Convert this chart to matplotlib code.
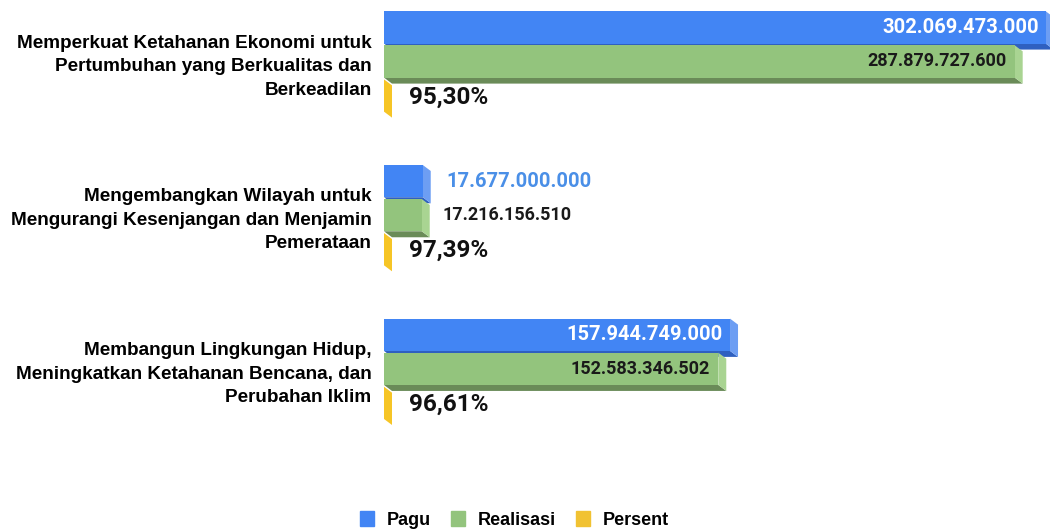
import matplotlib
matplotlib.use('Agg')
import matplotlib.pyplot as plt
from matplotlib.patches import Polygon, Patch

# data
categories = ['Memperkuat Ketahanan Ekonomi untuk\nPertumbuhan yang Berkualitas dan\nBerkeadilan',
              'Mengembangkan Wilayah untuk\nMengurangi Kesenjangan dan Menjamin\nPemerataan',
              'Membangun Lingkungan Hidup,\nMeningkatkan Ketahanan Bencana, dan\nPerubahan Iklim']
pagu = [302069473000, 17677000000, 157944749000]
realisasi = [287879727600, 17216156510, 152583346502]
persent = [95.30, 97.39, 96.61]
pagu_labels = ['302.069.473.000', '17.677.000.000', '157.944.749.000']
real_labels = ['287.879.727.600', '17.216.156.510', '152.583.346.502']
pers_labels = ['95,30%', '97,39%', '96,61%']
series_names = ['Pagu', 'Realisasi', 'Persent']

# colours: front, side, bottom
BLUE = ('#4285f4', '#6d9ef3', '#2f60c0')
GREEN = ('#93c47d', '#a9d492', '#6a8b58')
YELLOW = ('#f1c232', '#f6c526', '#c99a10')

W, H = 1050, 532
fig = plt.figure(figsize=(W/100, H/100), dpi=100)
ax_left, ax_right = 384, 1050
ax_top, ax_bot = 0, 461
ax = fig.add_axes([ax_left/W, 1-ax_bot/H, (ax_right-ax_left)/W, (ax_bot-ax_top)/H])

XMAX = 304e9
ax.set_xlim(0, XMAX)
ax.set_ylim(2.6, -0.4)

# depth of the 3D effect in px -> data units
DX_PX, DY_PX = 8, 6
dx = DX_PX * XMAX / (ax_right-ax_left)
dy = DY_PX * 3.0 / (ax_bot-ax_top)

OFF = 0.2215
BH = 0.21


def bar3d(y, w, cols):
    front, side, bottom = cols
    top, bot = y - BH/2, y + BH/2
    # bottom face
    ax.add_patch(Polygon([(0, bot), (w, bot), (w+dx, bot+dy), (dx, bot+dy)],
                         closed=True, fc=bottom, ec='none', zorder=2))
    # right side face
    ax.add_patch(Polygon([(w, top), (w+dx, top+dy), (w+dx, bot+dy), (w, bot)],
                         closed=True, fc=side, ec='none', zorder=2))
    ax.barh(y, w, height=BH, color=front, zorder=3)


for i in range(len(categories)):
    bar3d(i-OFF, pagu[i], BLUE)
    bar3d(i, realisasi[i], GREEN)
    bar3d(i+OFF, persent[i], YELLOW)

# value labels
for i in range(len(categories)):
    if pagu[i] > 0.3*XMAX:
        ax.annotate(pagu_labels[i], (pagu[i], i-OFF), xytext=(-5, 0), textcoords='offset points',
                    ha='right', va='center', color='white', fontsize=14.5, fontweight='bold',
                    family='Roboto', zorder=5)
        ax.annotate(real_labels[i], (realisasi[i], i), xytext=(-6, 0), textcoords='offset points',
                    ha='right', va='center', color='#1a1a1a', fontsize=13, fontweight='bold',
                    family='Roboto', zorder=5)
    else:
        ax.annotate(pagu_labels[i], (pagu[i], i-OFF), xytext=(17, 0), textcoords='offset points',
                    ha='left', va='center', color='#4a8fe7', fontsize=14.5, fontweight='bold',
                    family='Roboto', zorder=5)
        ax.annotate(real_labels[i], (realisasi[i], i), xytext=(15, 0), textcoords='offset points',
                    ha='left', va='center', color='#1a1a1a', fontsize=13, fontweight='bold',
                    family='Roboto', zorder=5)
    ax.annotate(pers_labels[i], (0, i+OFF), xytext=(18, -1), textcoords='offset points',
                ha='left', va='center', color='#111111', fontsize=17.5, fontweight='bold',
                family='Roboto', zorder=5)

ax.set_yticks(range(len(categories)))
ax.set_yticklabels(categories, fontsize=13.6, fontweight='bold', family='Liberation Sans',
                   ha='right', multialignment='right', linespacing=1.5)
ax.tick_params(axis='y', length=0, pad=9)
ax.set_xticks([])
for s in ax.spines.values():
    s.set_visible(False)
ax.set_facecolor('none')

handles = [Patch(color=BLUE[0]), Patch(color=GREEN[0]), Patch(color=YELLOW[0])]
fig.legend(handles, series_names, loc='center', bbox_to_anchor=(0.49, 0.022), ncol=3,
           frameon=False, handlelength=0.8, handleheight=0.9, handletextpad=0.7,
           columnspacing=1.1, prop={'family': 'Liberation Sans', 'weight': 'bold', 'size': 13})

fig.savefig('out.png', dpi=100)
